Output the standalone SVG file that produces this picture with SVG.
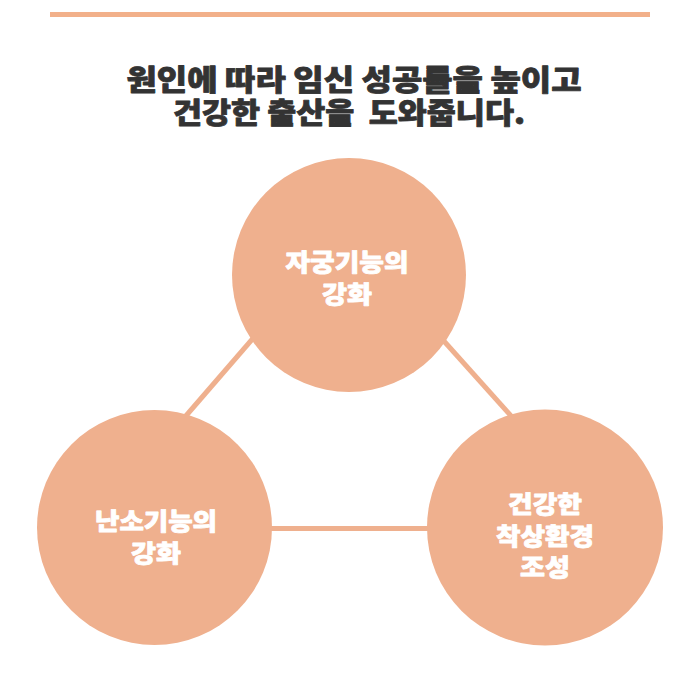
<svg xmlns="http://www.w3.org/2000/svg" width="700" height="700" viewBox="0 0 700 700">
  <style>
    .title { font-family: "Noto Sans CJK KR", "Noto Sans", sans-serif; font-weight: 900; font-size: 29px; fill: #333333; stroke: #333333; stroke-width: 0.8px; stroke-linejoin: round; text-anchor: middle; }
    .node circle { fill: #EFB08E; }
    .label { font-family: "Noto Sans CJK KR", "Noto Sans", sans-serif; font-weight: 900; font-size: 24px; fill: #FFFFFF; stroke: #FFFFFF; stroke-width: 0.8px; stroke-linejoin: round; text-anchor: middle; }
    .conn line { stroke: #EFB08E; stroke-width: 5; }
  </style>
  <rect x="50" y="12" width="600" height="5" fill="#F2B08A"/>
  <text class="title" x="354" y="91" textLength="455" lengthAdjust="spacingAndGlyphs">원인에 따라 임신 성공률을 높이고</text>
  <text class="title" x="349" y="124" textLength="352" lengthAdjust="spacingAndGlyphs" xml:space="preserve">건강한 출산을  도와줍니다.</text>
  <g id="connectors" class="conn">
    <line x1="262" y1="328" x2="178" y2="425"/>
    <line x1="434" y1="330" x2="520" y2="426"/>
    <line x1="260" y1="528.5" x2="440" y2="528.5"/>
  </g>
  <g id="node-uterus" class="node">
    <circle cx="349" cy="275" r="117"/>
    <text class="label" x="347" y="271" textLength="123" lengthAdjust="spacingAndGlyphs">자궁기능의</text>
    <text class="label" x="347" y="303" textLength="50" lengthAdjust="spacingAndGlyphs">강화</text>
  </g>
  <g id="node-ovary" class="node">
    <circle cx="154.5" cy="527.5" r="117.5"/>
    <text class="label" x="156" y="530" textLength="122" lengthAdjust="spacingAndGlyphs">난소기능의</text>
    <text class="label" x="156" y="562" textLength="50" lengthAdjust="spacingAndGlyphs">강화</text>
  </g>
  <g id="node-environment" class="node">
    <circle cx="545" cy="527.5" r="118"/>
    <text class="label" x="545" y="513" textLength="74" lengthAdjust="spacingAndGlyphs">건강한</text>
    <text class="label" x="545" y="545" textLength="98" lengthAdjust="spacingAndGlyphs">착상환경</text>
    <text class="label" x="545" y="576" textLength="50" lengthAdjust="spacingAndGlyphs">조성</text>
  </g>
</svg>
